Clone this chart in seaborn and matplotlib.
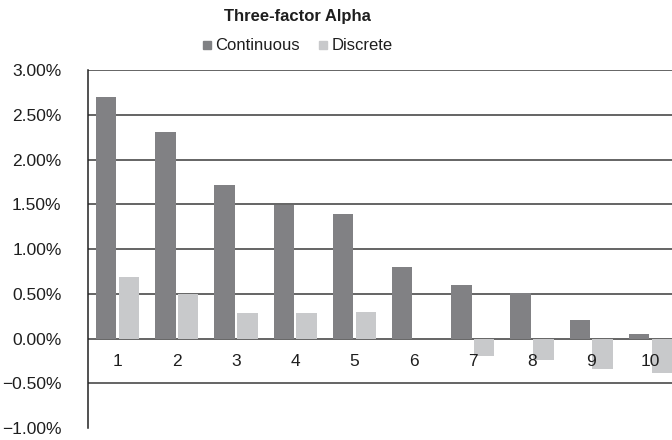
import pandas as pd
import matplotlib
matplotlib.use("Agg")
import matplotlib.pyplot as plt
import seaborn as sns
from matplotlib.lines import Line2D

# Données (en %)
deciles = ["1", "2", "3", "4", "5", "6", "7", "8", "9", "10"]
continuous = [2.70, 2.31, 1.71, 1.49, 1.39, 0.80, 0.60, 0.51, 0.21, 0.05]
discrete = [0.69, 0.50, 0.29, 0.29, 0.30, -0.01, -0.20, -0.24, -0.34, -0.38]
series_names = ["Continuous", "Discrete"]
yticks = [-1.0, -0.5, 0.0, 0.5, 1.0, 1.5, 2.0, 2.5, 3.0]
ytick_labels = ["\u22121.00%", "\u22120.50%", "0.00%", "0.50%", "1.00%",
                "1.50%", "2.00%", "2.50%", "3.00%"]

df = pd.DataFrame({
    "decile": deciles * 2,
    "alpha": continuous + discrete,
    "series": [series_names[0]] * len(deciles) + [series_names[1]] * len(deciles),
})

sns.set_style("white")
plt.rcParams["font.family"] = ["Liberation Sans", "DejaVu Sans"]

colors = {"Continuous": "#808184", "Discrete": "#c8c9cb"}

fig = plt.figure(figsize=(6.72, 4.40), dpi=100)
ax = fig.add_axes([88 / 672, 1 - 428 / 440, 592 / 672, 358 / 440])

sns.barplot(data=df, x="decile", y="alpha", hue="series", palette=colors,
            width=0.77, gap=0.11, linewidth=0, legend=False, ax=ax, zorder=2)

ax.set_ylim(-1.0, 3.0)
ax.set_xlim(-0.5, len(deciles) - 0.5)
ax.set_yticks(yticks)
ax.set_yticklabels(ytick_labels, fontsize=12.5, color="#1e1e1e")
ax.tick_params(axis="y", length=0, pad=19)

# grille horizontale (sauf -1.00%)
for y in yticks[1:]:
    ax.axhline(y, color="#3a3a3a", lw=1.1, zorder=1)

# axe des x au niveau de zéro, étiquettes sous la ligne, au-dessus des barres
ax.spines["bottom"].set_position(("data", 0))
ax.spines["bottom"].set_visible(False)
ax.tick_params(axis="x", length=0, pad=11, labelsize=12.5, labelcolor="#1e1e1e")
ax.xaxis.set_zorder(5)
ax.spines["top"].set_visible(False)
ax.spines["right"].set_visible(False)
ax.spines["left"].set_color("#222222")
ax.spines["left"].set_linewidth(1.1)
ax.spines["left"].set_bounds(-1.0, 3.0)
ax.set_xlabel("")
ax.set_ylabel("")

cx = 297 / 672
fig.text(cx, 1 - 16 / 440, "Three-factor Alpha", ha="center", va="center",
         fontsize=12, fontweight="bold", color="#1e1e1e")

handles = [Line2D([0], [0], marker="s", ls="", markersize=5.5,
                  markerfacecolor=colors[s], markeredgecolor=colors[s]) for s in series_names]
fig.legend(handles, series_names, loc="center", bbox_to_anchor=(cx, 1 - 46 / 440),
           ncol=2, frameon=False, fontsize=12, handletextpad=0.2, columnspacing=1.1,
           handlelength=0.6, labelcolor="#1e1e1e")

plt.savefig("out.png", dpi=100)
plt.close()
